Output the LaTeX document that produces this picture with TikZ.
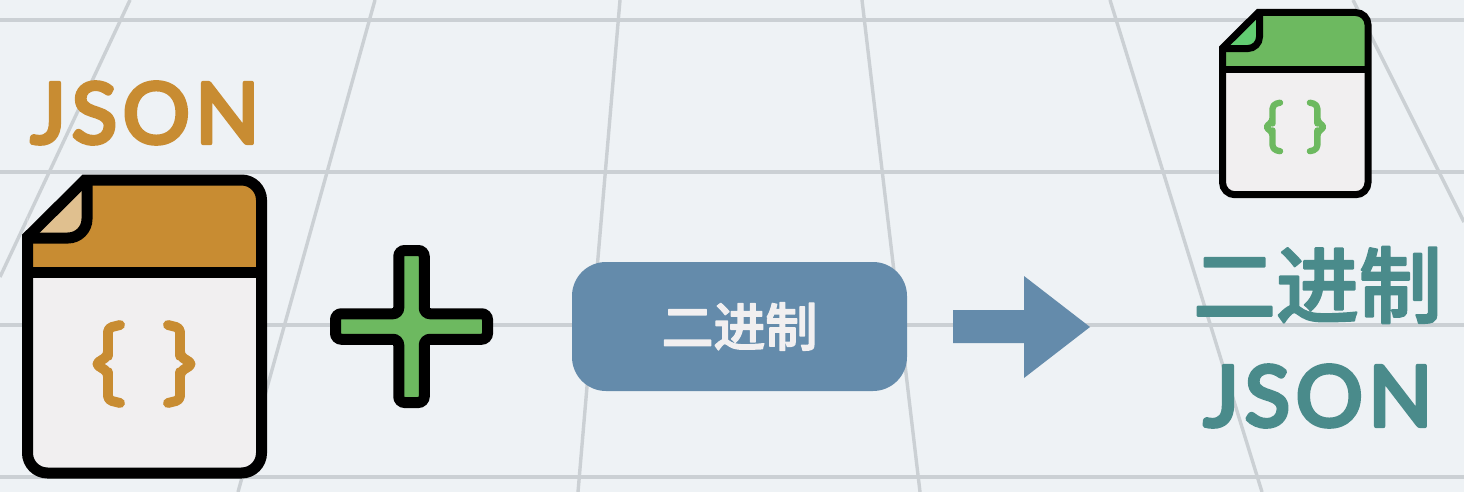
\documentclass[tikz,border=0pt]{standalone}
\usepackage{fontspec}
\setmainfont{Lato}
\newfontfamily\latinbold[FakeBold=5,LetterSpace=6.5]{Lato}
\newfontfamily\cjkbold[FakeBold=2.5]{Noto Sans CJK SC Medium}
\newcommand{\roundjoin}{\special{pdf:code 1 j 1 J}}
\definecolor{bgc}{HTML}{EEF2F5}
\definecolor{gridc}{HTML}{CBD0D4}
\definecolor{orangec}{HTML}{C88C32}
\definecolor{orangel}{HTML}{E0C08F}
\definecolor{greenc}{HTML}{6DB960}
\definecolor{greenl}{HTML}{62CC72}
\definecolor{bodyc}{HTML}{F1EFF0}
\definecolor{bluec}{HTML}{648BAB}
\definecolor{tealc}{HTML}{4A8B8B}
\tikzset{
  gridline/.style={draw=gridc,line width=3.4pt},
  bracestroke/.style={line cap=round,line join=round,rounded corners=4pt},
  labeltext/.style={inner sep=0pt,anchor=center},
}
\newcommand{\filedoc}[6]{% x, y, scale, stroke, main, light
\begin{scope}[shift={(#1,#2)},x=#3pt,y=-#3pt]
  \path[fill=bodyc] (0,57) -- (57.5,0) -- (234,0) [rounded corners=22*#3pt] -- (234,293) -- (0,293) -- (0,57) -- cycle;
  \fill[#5,rounded corners=14*#3pt] (57.5,0) -- (234,0) -- (234,92) -- (0,92) -- (0,57) -- cycle;
  \fill[#6] (0,57) -- (59.5,0) -- (59.5,38) -- (42,57) -- cycle;
  \draw[black,line width=#4pt,rounded corners=19*#3pt] (59.5,0) -- (59.5,58) -- (0,58);
  \draw[black,line width=#4pt] (0,92) -- (234,92);
  \draw[black,line width=#4pt,line join=miter] (0,57) -- (57.5,0) [rounded corners=20*#3pt] -- (234,0) -- (234,293) -- (0,293) [sharp corners] -- (0,57) -- cycle;
  \draw[#5,line width=0.9*#4pt,bracestroke]
     (92.5,145) -- (80.5,148) -- (80.5,172) -- (80.5,176) -- (68,184) -- (80.5,192) -- (80.5,196) -- (80.5,220) -- (92.5,223);
  \draw[#5,line width=0.9*#4pt,bracestroke]
     (140.5,145) -- (152.5,148) -- (152.5,172) -- (152.5,176) -- (165,184) -- (152.5,192) -- (152.5,196) -- (152.5,220) -- (140.5,223);
\end{scope}}
\begin{document}
\begin{tikzpicture}[x=1pt,y=-1pt]
\useasboundingbox (0,0) rectangle (1464,492);
\fill[bgc] (0,0) rectangle (1464,492);
\foreach \yy in {20,172,325,477} \draw[gridline] (0,\yy) -- (1464,\yy);
\draw[gridline] (130,0) -- (0,277);
\draw[gridline] (375,0) -- (238,492);
\draw[gridline] (620,0) -- (578,492);
\draw[gridline] (862,0) -- (920,492);
\draw[gridline] (1110,0) -- (1262,492);
\draw[gridline] (1353,0) -- (1464,222);
\filedoc{27.5}{180}{1}{11}{orangec}{orangel}
\filedoc{1222.5}{12.5}{0.622}{7}{greenc}{greenl}
\node[labeltext,text=orangec] (jsonl) at (145,113) {\roundjoin\latinbold\fontsize{84}{84}\selectfont JSON};
\node[labeltext,text=tealc] (jsonr) at (1318,396) {\roundjoin\latinbold\fontsize{84}{84}\selectfont JSON};
\node[labeltext,text=tealc] (binr) at (1317.5,285) {\roundjoin\cjkbold\fontsize{83}{83}\selectfont 二进制};
\draw[black,line width=11pt,fill=greenc,rounded corners=6pt]
  (398.75,250.5) -- (424.25,250.5) -- (424.25,313.75) -- (487.5,313.75) -- (487.5,339.25) -- (424.25,339.25) -- (424.25,402.5) -- (398.75,402.5) -- (398.75,339.25) -- (335.5,339.25) -- (335.5,313.75) -- (398.75,313.75) -- cycle;
\node[fill=bluec,rounded corners=34pt,minimum width=335pt,minimum height=129pt,inner sep=0pt,text=bodyc] (bin) at (739.5,326.5) {\roundjoin\cjkbold\fontsize{52}{52}\selectfont 二进制};
\fill[bluec] (953,310) -- (1024,310) -- (1024,276) -- (1090,327) -- (1024,378) -- (1024,343) -- (953,343) -- cycle;
\end{tikzpicture}
\end{document}
